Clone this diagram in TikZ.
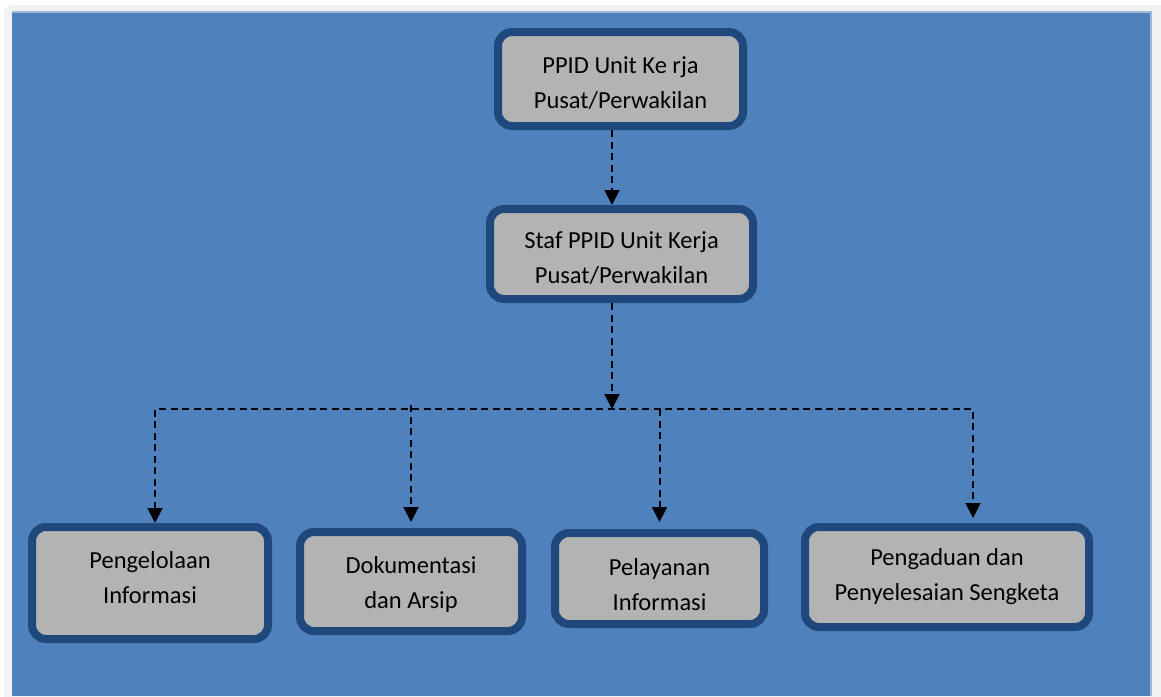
\documentclass[tikz,border=0pt]{standalone}
\usepackage{fontspec}
\setmainfont{Carlito}
\usepackage{tikz}
\usetikzlibrary{arrows.meta,positioning}
\usepackage{xcolor}
\definecolor{panel}{HTML}{4F81BD}
\definecolor{edge}{HTML}{1F497D}
\definecolor{unitfill}{HTML}{B3B3B3}
\definecolor{margin}{HTML}{F2F2F2}

\begin{document}
\begin{tikzpicture}[x=1pt, y=-1pt,
  unit/.style={draw=edge, line width=8pt, fill=unitfill, rounded corners=14pt, inner sep=0pt},
  tag/.style={align=center, inner sep=0pt, font=\fontsize{24.5}{35}\selectfont},
  link/.style={line width=2pt, dash pattern=on 7pt off 4.5pt,
    -{Triangle[width=15pt,length=15pt]}},
  linkboth/.style={link, {Triangle[width=15pt,length=15pt]}-{Triangle[width=15pt,length=15pt]}}]
  \useasboundingbox (0,0) rectangle (1161,696);
  \fill[white] (0,0) rectangle (1161,696);
  \fill[margin, rounded corners=8pt] (4,5) rectangle (1180,720);
  \fill[panel] (12,12) rectangle (1151,696);
  \draw[panel!55!white, line width=1.2pt] (12,12) -- (1151,12) -- (1151,696);

  % top levels
  \node[unit, minimum width=245pt, minimum height=94pt,
    label={[tag, name=headtext, yshift=-4pt]center:PPID Unit Ke rja\\Pusat/Perwakilan}] (head) at (620.5,79) {};
  \node[unit, minimum width=263pt, minimum height=90pt,
    label={[tag, name=staftext, yshift=-4pt]center:Staf PPID Unit Kerja\\Pusat/Perwakilan}] (staf) at (621.5,254) {};

  % bottom row
  \node[unit, minimum width=236pt, minimum height=112pt,
    label={[tag, name=keloladesc, yshift=5pt]center:Pengelolaan\\Informasi}] (kelola) at (150,583) {};
  \node[unit, minimum width=222pt, minimum height=99pt,
    label={[tag, name=arsipdesc, yshift=-3pt]center:Dokumentasi\\dan Arsip}] (arsip) at (411,581.5) {};
  \node[unit, minimum width=209pt, minimum height=91pt,
    label={[tag, name=layandesc, yshift=-6pt]center:Pelayanan\\Informasi}] (layan) at (659.5,578.5) {};
  \node[unit, minimum width=284pt, minimum height=100pt,
    label={[tag, name=sengketadesc]center:Pengaduan dan\\Penyelesaian Sengketa}] (sengketa) at (947,577) {};

  % connectors
  \coordinate (spine) at (612,0);
  \coordinate (busL) at (155,409);
  \coordinate (busR) at (973,409);
  \draw[link] (spine |- head.south) -- (spine |- staf.north);
  \draw[link] (spine |- staf.south) -- (spine |- busL);
  \draw[linkboth, shorten >=5pt] (busL |- kelola.north) -- (busL) -- (busR) -- (busR |- sengketa.north);
  \draw[link, shorten >=6pt] ([yshift=4pt]arsip.north |- busL) -- (arsip.north);
  \draw[link, shorten >=7pt] (layan.north |- busL) -- (layan.north);
\end{tikzpicture}
\end{document}
